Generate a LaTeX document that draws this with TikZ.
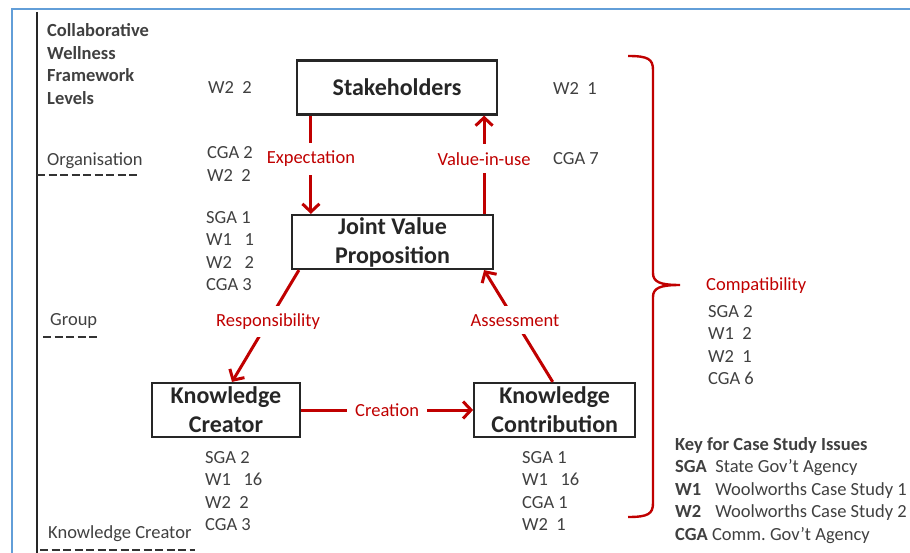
\documentclass[tikz,border=0pt]{standalone}
\usepackage{fontspec}
\setmainfont{Carlito}
\usetikzlibrary{arrows.meta,positioning}
\definecolor{dred}{RGB}{192,0,0}
\definecolor{txtgray}{RGB}{64,64,64}
\definecolor{framblue}{RGB}{98,158,216}

\begin{document}
\begin{tikzpicture}[x=1pt,y=-1pt,font=\fontsize{18.5}{22.5}\selectfont,text=txtgray]

        % styles
        \tikzstyle{box} = [rectangle, minimum height=54pt, inner sep=0pt, align=center, draw=black!85, line width=2.2pt, font=\fontsize{24}{29}\selectfont\bfseries, text=black!85]
        \tikzstyle{arrow} = [dred, line width=3pt, -{Straight Barb[length=8pt,width=17pt]}]
        \tikzstyle{lbl} = [fill=white, text=dred, inner xsep=8pt, inner ysep=8pt, pos=0.5]
        \tikzstyle{figs} = [anchor=west, inner sep=0pt, align=left]
        \tikzstyle{levelline} = [black!80, line width=1.6pt, dash pattern=on 8pt off 3.5pt]
        \tikzstyle{brace} = [dred, line width=2.4pt]

        \useasboundingbox (0,0) rectangle (910,553);

        % frame and level axis
        \draw[framblue, line width=2pt] (910,9) -- (12,9) -- (12,553);
        \draw[black!85, line width=2pt] (37,12) -- (37,553);
        \draw[levelline] (37,175) -- (140,175);
        \draw[levelline] (43,337) -- (97,337);
        \draw[levelline] (40,550) -- (195,550);

        % level labels
        \node (head) [figs, font=\fontsize{18.5}{22.5}\selectfont\bfseries] at (47,64) {Collaborative\\Wellness\\Framework\\Levels};
        \node (org) [figs] at (47,160.5) {Organisation};
        \node (grp) [figs] at (50,320.5) {Group};
        \node (kclevel) [figs] at (48,533.5) {Knowledge Creator};

        % main boxes
        \node (stake) [box, minimum width=200pt] at (397,87.5) {Stakeholders};
        \node (jvp) [box, minimum width=201pt] at (392.5,242) {Joint Value\\Proposition};
        \node (creator) [box, minimum width=148pt] at (226,410) {Knowledge\\Creator};
        \node (contrib) [box, minimum width=161pt, right=172pt of creator] {Knowledge\\Contribution};

        % case study counts
        \node (f1) [figs] at (208,87.5) {W2~~2};
        \node (f2) [figs] at (553,88.5) {W2~~1};
        \node (f3) [figs] at (207,164) {CGA 2\\W2~~2};
        \node (f4) [figs] at (553,158.5) {CGA 7};
        \node (f5) [figs] at (206,251) {SGA 1\\W1~~~1\\W2~~~2\\CGA 3};
        \node (f6) [figs] at (205,491) {SGA 2\\W1~~~16\\W2~~2\\CGA 3};
        \node (f7) [figs] at (522,491) {SGA 1\\W1~~~16\\CGA 1\\W2~~1};
        \node (compat) [figs, text=dred] at (706,285.5) {Compatibility};
        \node (f8) [figs] at (708,345) {SGA 2\\W1~~2\\W2~~1\\CGA 6};

        % key
        \node (key) [figs] at (675,490.5) {\textbf{Key for Case Study Issues}\\\textbf{SGA}~~State Gov't Agency\\\textbf{W1}\hspace{14pt}Woolworths Case Study 1\\\textbf{W2}\hspace{14pt}Woolworths Case Study 2\\\textbf{CGA} Comm.\ Gov't Agency};

        % connectors
        \draw [arrow] ([xshift=15pt]stake.south west) -- node[lbl, pos=0.44] {Expectation} ([xshift=15pt]stake.south west |- jvp.north);
        \draw [arrow] ([xshift=-10pt]jvp.north east) -- node[lbl, pos=0.56] {Value-in-use} ([xshift=-10pt]jvp.north east |- stake.south);
        \draw [arrow] ([xshift=8pt]jvp.south west) -- node[lbl, pos=0.46] {Responsibility} ([xshift=6pt]creator.north);
        \draw [arrow] ([xshift=-2pt]contrib.north) -- node[lbl, pos=0.55] {Assessment} ([xshift=-10pt]jvp.south east);
        \draw [arrow] (creator) -- node[lbl] {Creation} (contrib);

        % brace
        \draw[brace] (628,56) .. controls (648,56) and (653,59) .. (653,70) -- (653,273) .. controls (653,282) and (660,285) .. (680,285) .. controls (660,285) and (653,288) .. (653,297) -- (653,503) .. controls (653,514) and (648,517) .. (628,517);

    \end{tikzpicture}
\end{document}
